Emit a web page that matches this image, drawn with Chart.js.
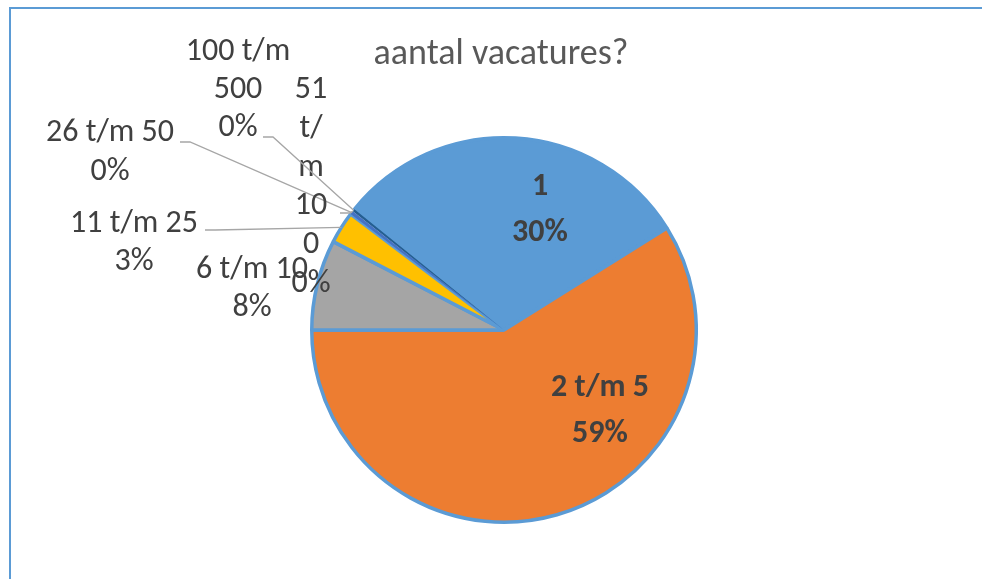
<!DOCTYPE html>
<html>
<head>
<meta charset="utf-8">
<script src="https://cdn.jsdelivr.net/npm/chart.js@4/dist/chart.umd.min.js"></script>
<style>
  html, body { margin: 0; padding: 0; background: #ffffff; }
  #wrap { width: 982px; height: 579px; position: relative; }
</style>
</head>
<body>
<div id="wrap"><canvas id="pieChart" width="982" height="579"></canvas></div>
<script>
const FONT = "Carlito, Calibri, Lato, sans-serif";

const chartTitle = "aantal vacatures?";
const categories = ["1", "2 t/m 5", "6 t/m 10", "11 t/m 25", "26 t/m 50", "51 t/m 100", "100 t/m 500"];
const shares = [30.3, 58.9, 7.6, 2.7, 0.3, 0, 0.2];
const sliceColors = ["#5b9bd5", "#ed7d31", "#a5a5a5", "#ffc000", "#4472c4", "#70ad47", "#255e91"];

/* ------------------------------
   label placement (layout only)
------------------------------- */
const labelSpots = [
    { x: 540, y: 187, bold: true, lh: 46, wrap: 300 },
    { x: 600, y: 388, bold: true, lh: 46, wrap: 300 },
    { x: 252, y: 270, lh: 38, wrap: 200 },
    { x: 134, y: 224, lh: 38, wrap: 200, leader: { x: 205, y: 230 } },
    { x: 110, y: 133, lh: 39, wrap: 200, leader: { x: 180, y: 142 } },
    { x: 311, y: 90, lh: 38.8, wrap: 42, leader: { x: 340, y: 213 } },
    { x: 238, y: 52, lh: 38, wrap: 116, leader: { x: 263, y: 137 } }
];

function wrapText(ctx, text, maxW) {
    const lines = [];
    let cur = "";
    text.split(" ").forEach(word => {
        const test = cur ? cur + " " + word : word;
        if (ctx.measureText(test).width <= maxW) { cur = test; return; }
        if (cur) lines.push(cur);
        cur = "";
        // break long words by characters
        let piece = "";
        for (const ch of word) {
            if (ctx.measureText(piece + ch).width > maxW && piece) {
                lines.push(piece);
                piece = ch;
            } else piece += ch;
        }
        cur = piece;
    });
    if (cur) lines.push(cur);
    return lines;
}

const sliceLabels = {
    id: "sliceLabels",
    beforeDraw(chart) {
        const ctx = chart.ctx;
        ctx.save();
        ctx.strokeStyle = "#5b9bd5";
        ctx.lineWidth = 2;
        ctx.strokeRect(10, 8, 1100, 800);
        ctx.fillStyle = "#595959";
        ctx.font = "36px " + FONT;
        ctx.textAlign = "center";
        ctx.textBaseline = "middle";
        ctx.fillText(chartTitle, 501, 55);
        ctx.restore();
    },
    afterDatasetsDraw(chart) {
        const ctx = chart.ctx;
        const meta = chart.getDatasetMeta(0);
        const values = chart.data.datasets[0].data;
        const total = values.reduce((a, b) => a + b, 0);
        ctx.save();
        meta.data.forEach((arc, i) => {
            const spot = labelSpots[i];
            const pct = Math.round(values[i] / total * 100) + "%";
            ctx.font = (spot.bold ? "bold " : "") + "32px " + FONT;
            ctx.fillStyle = "#404040";
            ctx.textAlign = "center";
            ctx.textBaseline = "middle";
            const lines = wrapText(ctx, chart.data.labels[i], spot.wrap).concat([pct]);
            lines.forEach((ln, k) => ctx.fillText(ln, spot.x, spot.y + k * spot.lh));

            if (spot.leader) {
                const p = arc.getProps(["x", "y", "startAngle", "endAngle", "outerRadius"], true);
                const mid = (p.startAngle + p.endAngle) / 2;
                const ex = p.x + Math.cos(mid) * p.outerRadius;
                const ey = p.y + Math.sin(mid) * p.outerRadius;
                ctx.strokeStyle = "#a6a6a6";
                ctx.lineWidth = 1.3;
                ctx.beginPath();
                ctx.moveTo(spot.leader.x, spot.leader.y);
                ctx.lineTo(spot.leader.x + 10, spot.leader.y);
                ctx.lineTo(ex, ey);
                ctx.stroke();
            }
        });
        ctx.restore();
    }
};

new Chart(document.getElementById("pieChart"), {
    type: "pie",
    data: {
        labels: categories,
        datasets: [{
            data: shares,
            backgroundColor: sliceColors,
            borderColor: "#5b9bd5",
            borderWidth: [3.5, 3.5, 3.5, 3.5, 0, 0, 0]
        }]
    },
    options: {
        responsive: false,
        animation: false,
        rotation: -51.1,
        layout: { padding: { left: 310, right: 284, top: 136, bottom: 55 } },
        plugins: {
            legend: { display: false },
            tooltip: { enabled: false },
            title: { display: false }
        }
    },
    plugins: [sliceLabels]
});
</script>
</body>
</html>
